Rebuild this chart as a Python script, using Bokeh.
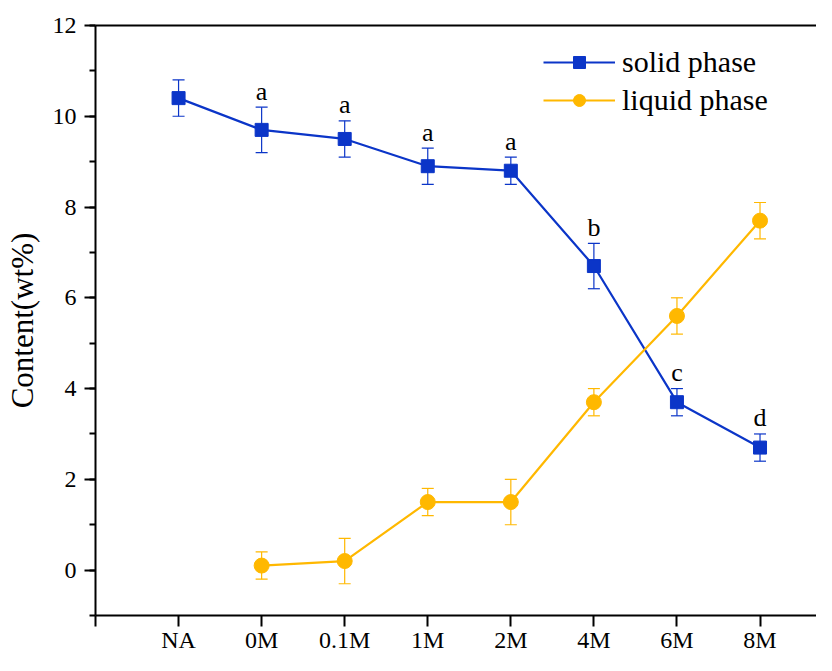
from bokeh.plotting import figure
from bokeh.models import (ColumnDataSource, Range1d, FixedTicker, SingleIntervalTicker,
                          Whisker, TeeHead, LinearAxis, Legend, LegendItem)
from bokeh.core.properties import value
from bokeh.embed import file_html
from bokeh.resources import INLINE

# ---- data ----
categories = ["NA", "0M", "0.1M", "1M", "2M", "4M", "6M", "8M"]
solid_x = [1, 2, 3, 4, 5, 6, 7, 8]
solid_y = [10.4, 9.7, 9.5, 8.9, 8.8, 6.7, 3.7, 2.7]
solid_err = [0.4, 0.5, 0.4, 0.4, 0.3, 0.5, 0.3, 0.3]
liquid_x = [2, 3, 4, 5, 6, 7, 8]
liquid_y = [0.1, 0.2, 1.5, 1.5, 3.7, 5.6, 7.7]
liquid_err = [0.3, 0.5, 0.3, 0.5, 0.3, 0.4, 0.4]
sig_x = [2, 3, 4, 5, 6, 7, 8]
sig_letters = ["a", "a", "a", "a", "b", "c", "d"]

BLUE = "#0B35C8"
ORANGE = "#FFB800"
FONT = "Liberation Serif"

solid_src = ColumnDataSource(dict(
    x=solid_x, y=solid_y,
    upper=[v + e for v, e in zip(solid_y, solid_err)],
    lower=[v - e for v, e in zip(solid_y, solid_err)]))
liquid_src = ColumnDataSource(dict(
    x=liquid_x, y=liquid_y,
    upper=[v + e for v, e in zip(liquid_y, liquid_err)],
    lower=[v - e for v, e in zip(liquid_y, liquid_err)]))
sig_upper = [solid_y[solid_x.index(x)] + solid_err[solid_x.index(x)] for x in sig_x]
sig_src = ColumnDataSource(dict(x=sig_x, y=sig_upper, t=sig_letters))

p = figure(width=816, height=655, output_backend="svg", toolbar_location=None,
           x_range=Range1d(0, 8.68), y_range=Range1d(-1, 12),
           min_border_left=95, min_border_top=25, min_border_right=0,
           min_border_bottom=30)
p.outline_line_color = None
p.grid.visible = False
p.background_fill_color = "white"
p.border_fill_color = "white"

# error bars
for src, col in ((solid_src, BLUE), (liquid_src, ORANGE)):
    w = Whisker(source=src, base="x", upper="upper", lower="lower",
                line_color=col, line_width=1.2,
                upper_head=TeeHead(size=12, line_color=col, line_width=1.2),
                lower_head=TeeHead(size=12, line_color=col, line_width=1.2))
    p.add_layout(w)

r1 = p.line("x", "y", source=solid_src, line_color=BLUE, line_width=2.2)
r2 = p.scatter("x", "y", source=solid_src, marker="square", size=13,
               fill_color=BLUE, line_color=BLUE)
r3 = p.line("x", "y", source=liquid_src, line_color=ORANGE, line_width=2.2)
r4 = p.scatter("x", "y", source=liquid_src, marker="circle", size=15,
               fill_color=ORANGE, line_color=ORANGE)

p.text("x", "y", text="t", source=sig_src, text_font=value(FONT),
       text_font_size="26px", text_align="center", text_baseline="alphabetic",
       y_offset=-16, text_color="black")

# axes
xa = p.xaxis[0]
xa.ticker = FixedTicker(ticks=[0, 1, 2, 3, 4, 5, 6, 7, 8])
xa.major_label_overrides = {0: ""} | {i + 1: c for i, c in enumerate(categories)}
ya = p.yaxis[0]
ya.ticker = SingleIntervalTicker(interval=2, num_minor_ticks=2)
ya.axis_label = "Content(wt%)"
for ax in (xa, ya):
    ax.axis_line_width = 2
    ax.axis_line_color = "black"
    ax.major_tick_line_width = 2
    ax.minor_tick_line_width = 2
    ax.major_tick_in = 0
    ax.major_tick_out = 11
    ax.minor_tick_in = 0
    ax.minor_tick_out = 6
    ax.major_label_text_font = FONT
    ax.major_label_text_font_size = "24px"
    ax.major_label_text_color = "black"
    ax.axis_label_text_font = FONT
    ax.axis_label_text_font_style = "normal"
    ax.axis_label_text_font_size = "31px"
    ax.axis_label_text_color = "black"
xa.minor_tick_line_color = None
xa.major_label_standoff = 0
ya.major_label_standoff = 8
ya.axis_label_standoff = 10

top = LinearAxis(ticker=FixedTicker(ticks=[]), axis_line_width=2,
                 major_tick_line_color=None, minor_tick_line_color=None,
                 major_label_text_font_size="0px")
p.add_layout(top, "above")

legend = Legend(items=[LegendItem(label="solid phase", renderers=[r1, r2]),
                       LegendItem(label="liquid phase", renderers=[r3, r4])],
                location=(448, 498), border_line_color=None,
                background_fill_alpha=0, padding=0, margin=0, spacing=4,
                glyph_width=72, glyph_height=30, label_standoff=7,
                label_text_font=FONT, label_text_font_size="30px",
                label_text_color="black", label_height=30)
p.add_layout(legend)

open("out.html", "w").write(file_html(p, INLINE))
